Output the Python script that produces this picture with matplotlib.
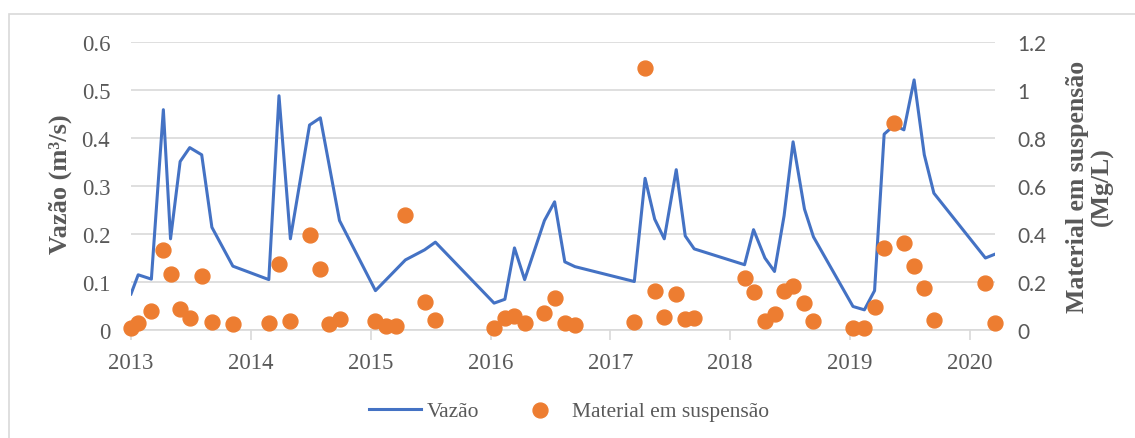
import matplotlib.pyplot as plt
import numpy as np
from matplotlib.patches import Rectangle

# datas das coletas (ano decimal)
datas = [2013.00, 2013.06, 2013.17, 2013.27, 2013.33, 2013.41, 2013.49, 2013.59, 2013.675, 2013.85,
         2014.15, 2014.235, 2014.33, 2014.49, 2014.58, 2014.65, 2014.74,
         2015.04, 2015.13, 2015.21, 2015.29, 2015.45, 2015.54,
         2016.03, 2016.12, 2016.20, 2016.285, 2016.45, 2016.535, 2016.62, 2016.705,
         2017.20, 2017.29, 2017.37, 2017.45, 2017.55, 2017.625, 2017.70,
         2018.12, 2018.195, 2018.29, 2018.37, 2018.45, 2018.525, 2018.62, 2018.695,
         2019.025, 2019.12, 2019.205, 2019.285, 2019.37, 2019.45, 2019.535, 2019.62, 2019.70,
         2020.13, 2020.21]

# vazão (m3/s), nan = sem medida
vazao = [0.075, 0.115, 0.106, 0.459, 0.19, 0.351, 0.38, 0.365, 0.214, 0.133,
         0.105, 0.488, 0.19, 0.427, 0.442, np.nan, 0.228,
         0.082, np.nan, np.nan, 0.146, 0.167, 0.183,
         0.056, 0.064, 0.171, 0.105, 0.228, 0.267, 0.142, 0.132,
         0.101, 0.316, 0.231, 0.19, 0.334, 0.196, 0.169,
         0.136, 0.209, 0.15, 0.122, 0.238, 0.392, 0.252, 0.194,
         0.049, 0.042, 0.082, 0.408, 0.427, 0.417, 0.521, 0.365, 0.285,
         0.15, 0.158]

# material em suspensão (Mg/L)
material = [0.007, 0.028, 0.08, 0.335, 0.233, 0.0875, 0.05, 0.226, 0.035, 0.026,
            0.029, 0.275, 0.036, 0.397, 0.254, 0.025, 0.046,
            0.039, 0.018, 0.018, 0.479, 0.118, 0.043,
            0.008, 0.05, 0.06, 0.028, 0.071, 0.133, 0.028, 0.021,
            0.035, 1.09, 0.163, 0.056, 0.149, 0.046, 0.051,
            0.215, 0.16, 0.036, 0.067, 0.164, 0.185, 0.111, 0.036,
            0.007, 0.007, 0.094, 0.34, 0.861, 0.3625, 0.268, 0.174, 0.043,
            0.195, 0.029]

anos = [2013, 2014, 2015, 2016, 2017, 2018, 2019, 2020]

cinza = '#595959'
grade = '#d9d9d9'
serif = 'Liberation Serif'

fig = plt.figure(figsize=(11.35, 4.39), dpi=100)
fig.patches.append(Rectangle((8.5 / 1135, -0.1), 1.2, 1 - 15 / 439 + 0.1, transform=fig.transFigure,
                             fill=False, edgecolor=grade, lw=1.2))

ax = fig.add_axes([131 / 1135, 108 / 439, 864 / 1135, 288 / 439])
ax2 = ax.twinx()

x = np.array(datas)
q = np.array(vazao)
ok = ~np.isnan(q)
l1, = ax.plot(x[ok], q[ok], color='#4472C4', lw=2.2, zorder=3, label='Vazão')
pts = ax2.scatter(datas, material, s=115, color='#ED7D31', zorder=4, clip_on=False,
                  label='Material em suspensão')

ax.set_xlim(2013.0, 2020.21)
ax.set_ylim(0, 0.6)
ax2.set_ylim(0, 1.2)
ax.set_yticks([0, 0.1, 0.2, 0.3, 0.4, 0.5, 0.6])
ax.set_yticklabels(['0', '0.1', '0.2', '0.3', '0.4', '0.5', '0.6'])
ax2.set_yticks([0, 0.2, 0.4, 0.6, 0.8, 1.0, 1.2])
ax2.set_yticklabels(['0', '0.2', '0.4', '0.6', '0.8', '1', '1.2'])
ax.set_xticks(anos)
ax.set_xticklabels([str(a) for a in anos])

ax.grid(axis='y', color=grade, lw=1.2, zorder=0)
ax.set_axisbelow(True)
for a in (ax, ax2):
    for s in a.spines.values():
        s.set_visible(False)
ax.spines['bottom'].set_visible(True)
ax.spines['bottom'].set_color(grade)
ax.spines['bottom'].set_linewidth(1.2)

ax.tick_params(axis='y', length=0, pad=15, labelcolor=cinza, labelsize=16.5)
ax.tick_params(axis='x', length=7, width=1.2, color=grade, pad=9, labelcolor=cinza, labelsize=16.5)
ax2.tick_params(axis='y', length=0, pad=16, labelcolor=cinza, labelsize=15)
for t in ax.get_xticklabels() + ax.get_yticklabels():
    t.set_fontfamily(serif)
for t in ax2.get_yticklabels():
    t.set_fontfamily('Lato')

fig.text(60 / 1135, 1 - 184 / 439, 'Vazão (m³/s)', rotation=90, ha='center', va='center',
         fontsize=19, fontweight='bold', color=cinza, family=serif)
fig.text(1090 / 1135, 1 - 187 / 439, 'Material em suspensão\n(Mg/L)', rotation=90, ha='center',
         va='center', multialignment='center', fontsize=18.5, fontweight='bold', color=cinza,
         family=serif, linespacing=1.05)

fig.legend([l1, pts], ['Vazão', 'Material em suspensão'], loc='center',
           bbox_to_anchor=(569 / 1135, 1 - 412 / 439), ncol=2, frameon=False,
           prop={'family': serif, 'size': 15.5}, labelcolor=cinza, handlelength=2.4,
           handletextpad=0.3, columnspacing=1.6, scatterpoints=1)

fig.savefig('out.png', dpi=100)
